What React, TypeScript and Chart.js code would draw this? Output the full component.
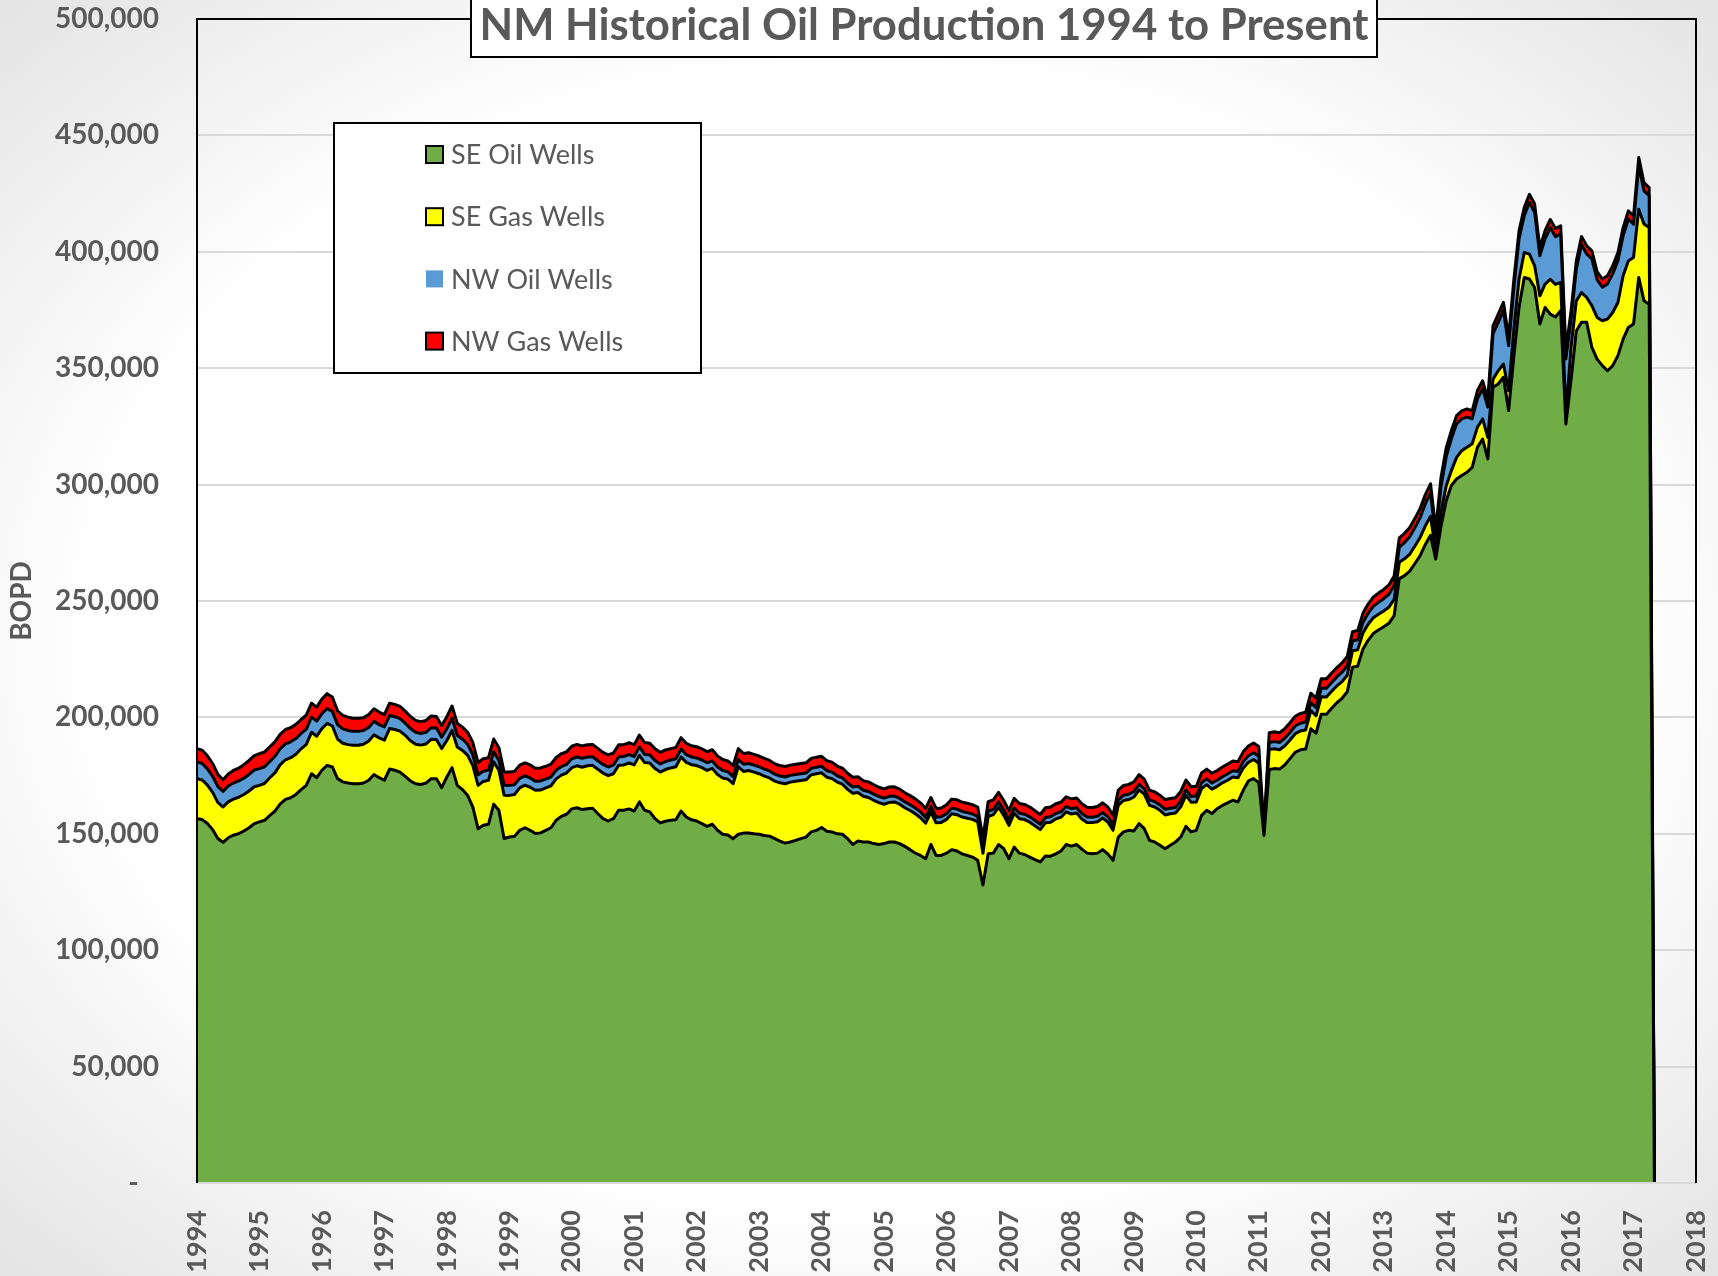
import React, { useEffect, useRef } from "react";
import { Chart, registerables } from "chart.js";

Chart.register(...registerables);

// ---------------- DATA (monthly, Jan 1994 .. May 2017, BOPD) ----------------
const START_YEAR = 1994;
const END_YEAR = 2018;
const TITLE = "NM Historical Oil Production 1994 to Present";
const Y_TITLE = "BOPD";
const SERIES_NAMES = ["SE Oil Wells", "SE Gas Wells", "NW Oil Wells", "NW Gas Wells"];
const SERIES_COLORS = ["#70AD47", "#FFFF00", "#5B9BD5", "#FF0000"];
const LEGEND_SWATCH_BORDER = [true, true, false, true];

const SE_OIL = [
  156500, 156100, 154400, 151800, 148000, 146300, 148300, 149400, 150100, 151200, 152600, 154400,
  155100, 155800, 157900, 159800, 162900, 164800, 165500, 166900, 169000, 170800, 175800, 174100,
  177300, 179400, 178700, 173700, 172300, 171800, 171500, 171500, 171800, 173000, 175500, 174100,
  173000, 177800, 177300, 176500, 174700, 172700, 171500, 171200, 171800, 173700, 173700, 169800,
  174400, 178400, 170800, 169000, 166500, 161500, 152200, 153700, 154100, 162700, 160100, 148000,
  148600, 148900, 151500, 152600, 151500, 150100, 150400, 151500, 152600, 155800, 157500, 158400,
  160700, 161200, 160400, 160800, 161000, 158700, 156500, 155500, 156500, 160100, 160100, 160700,
  159800, 163700, 160100, 159400, 156500, 154700, 155400, 155800, 156000, 159800, 157200, 156000,
  155500, 154400, 153200, 154100, 151500, 149800, 149500, 147900, 149800, 150300, 150300, 150000,
  149800, 149300, 149000, 147900, 146900, 146000, 146500, 147200, 147900, 148600, 150800, 151500,
  152700, 151100, 150800, 150000, 149800, 147900, 145400, 146900, 146500, 146500, 145800, 145400,
  145800, 146500, 146500, 145800, 144600, 143200, 141700, 140700, 139300, 145400, 140700, 140700,
  141700, 143200, 142600, 141400, 140700, 140000, 138600, 128000, 141400, 141700, 145400, 143600,
  139300, 144300, 141700, 141100, 140000, 138900, 137900, 140500, 140400, 141400, 142600, 145400,
  144700, 145400, 143400, 141700, 141400, 141700, 143200, 141400, 138600, 148600, 150800, 151500,
  151200, 154400, 152200, 147200, 146500, 145100, 143600, 145100, 146500, 148600, 153200, 150800,
  151500, 157900, 160100, 158700, 160800, 162200, 163300, 164400, 163700, 168700, 172700, 173700,
  172000, 149300, 177600, 178000, 177800, 179600, 182300, 185000, 186100, 186400, 195100, 193200,
  201400, 201400, 203900, 206300, 208200, 211000, 221600, 222000, 229300, 233100, 236000, 237500,
  238900, 240400, 243700, 259600, 260900, 262800, 266100, 269500, 274300, 278200, 268000, 282000,
  293000, 299600, 302400, 303900, 305300, 307400, 316000, 319600, 311000, 341800, 343200, 346100,
  331800, 355000, 376100, 389000, 388300, 384700, 369000, 376100, 373200, 372000, 374700, 326000,
  345000, 366000, 369700, 369700, 358900, 353900, 351100, 348900, 351100, 355400, 362500, 367500,
  369000, 389000, 379000, 377500, 0,
];

const SE_GAS = [
  17200, 17000, 16500, 16000, 15500, 15200, 15400, 15500, 15600, 15700, 15800, 15800,
  15700, 15900, 16200, 16500, 16800, 17000, 17200, 17300, 17500, 17600, 17800, 17800,
  17900, 18000, 17600, 17000, 16600, 16500, 16500, 16500, 16700, 16900, 17000, 17100,
  17200, 17400, 17500, 17600, 17600, 17300, 17000, 16900, 16800, 16900, 16800, 16800,
  15700, 16000, 16500, 16800, 17200, 17800, 18600, 18800, 18900, 18200, 17200, 18600,
  17900, 18000, 18200, 18300, 18500, 18600, 18400, 18200, 18000, 17800, 17700, 17700,
  17700, 18000, 18200, 18400, 18400, 19000, 19600, 19500, 19300, 19300, 19500, 19700,
  19800, 20000, 20500, 21000, 21500, 21800, 22200, 22500, 22800, 23200, 23500, 23700,
  23800, 24000, 24000, 24000, 24000, 24200, 24000, 23600, 29000, 26500, 26900, 26500,
  26000, 25500, 25000, 24700, 25000, 25500, 25700, 25400, 25000, 24600, 24500, 24300,
  23500, 23200, 22900, 22200, 21500, 21200, 22000, 20800, 19600, 19100, 18600, 18000,
  16900, 17000, 17200, 16900, 16600, 16800, 16900, 16200, 15300, 13900, 14000, 14200,
  14500, 15400, 15600, 15800, 16000, 16200, 16500, 13600, 16000, 16500, 16000, 14300,
  14300, 14500, 14800, 15000, 15000, 14500, 13900, 14200, 14600, 15000, 14500, 14000,
  13800, 13500, 13000, 13200, 13400, 13500, 13600, 13600, 12900, 13600, 13500, 13200,
  14600, 14500, 14800, 15000, 15000, 15000, 14500, 13500, 12400, 13000, 13300, 12800,
  12200, 11500, 11000, 10500, 9600, 9700, 9700, 10000, 10400, 9500, 8000, 8200,
  8300, 1500, 8600, 8500, 8300, 8200, 8000, 8000, 8100, 8200, 7800, 7500,
  7500, 7400, 7300, 7200, 7200, 7100, 7000, 7000, 6900, 6900, 6800, 6800,
  6800, 6900, 7000, 7000, 7200, 7300, 7500, 7800, 8000, 8200, 3000, 6000,
  6400, 6400, 9300, 10700, 10700, 10100, 8600, 8600, 9300, 3500, 5700, 5700,
  8500, 11500, 12200, 10700, 10700, 9300, 12100, 10000, 15000, 14000, 12100, 4300,
  14000, 12900, 12800, 10700, 17900, 17900, 19300, 22200, 22800, 22800, 27200, 28600,
  28600, 29300, 32900, 32900, 0,
];

const NW_OIL = [
  7200, 7100, 7000, 6900, 6800, 6700, 6800, 6900, 7000, 7000, 7100, 7200,
  7200, 7100, 7000, 7000, 6900, 6800, 6800, 6700, 6600, 6600, 6500, 6500,
  6400, 6400, 6300, 6200, 6200, 6100, 6000, 6000, 5900, 5800, 5800, 5700,
  5700, 5600, 5500, 5400, 5200, 5200, 5100, 5000, 5000, 5000, 4900, 4900,
  5000, 5200, 5000, 4800, 4700, 4600, 4500, 4400, 4300, 4300, 4200, 4300,
  4300, 4200, 4100, 4000, 4000, 3900, 3900, 3800, 3800, 3700, 3700, 3700,
  3800, 3800, 3800, 3800, 3700, 3700, 3700, 3700, 3700, 3600, 3600, 3600,
  3600, 3600, 3500, 3500, 3500, 3500, 3400, 3400, 3400, 3400, 3300, 3300,
  3300, 3300, 3300, 3200, 3200, 3200, 3100, 3100, 3100, 3100, 3000, 3000,
  3000, 3000, 3000, 3000, 2900, 2900, 2900, 2900, 2900, 2900, 2800, 2800,
  2800, 2800, 2800, 2700, 2700, 2700, 2700, 2700, 2600, 2600, 2600, 2600,
  2600, 2600, 2500, 2500, 2500, 2500, 2500, 2500, 2400, 2400, 2400, 2400,
  2400, 2400, 2400, 2400, 2400, 2300, 2300, 2300, 2300, 2300, 2300, 2300,
  2300, 2300, 2300, 2300, 2300, 2300, 2300, 2300, 2300, 2300, 2300, 2300,
  2300, 2300, 2300, 2300, 2300, 2300, 2300, 2300, 2300, 2300, 2300, 2300,
  2300, 2300, 2300, 2300, 2300, 2300, 2400, 2400, 2400, 2400, 2400, 2400,
  2500, 2500, 2500, 2600, 2600, 2600, 2700, 2700, 2700, 2800, 2800, 2900,
  3000, 500, 3000, 3100, 3100, 3200, 3200, 3300, 3300, 3400, 3400, 3500,
  3600, 3700, 3800, 3900, 4000, 4100, 4200, 4300, 4500, 4700, 4900, 5100,
  5300, 5600, 6000, 6500, 7000, 7500, 8000, 8500, 9500, 10000, 6000, 11000,
  12500, 13700, 14400, 13600, 13000, 10800, 12200, 12900, 13000, 19400, 20800, 23000,
  19400, 17900, 17200, 15800, 22200, 23000, 17200, 19500, 22200, 20500, 20900, 23700,
  12200, 13600, 20600, 18700, 20100, 16200, 14400, 15100, 16600, 18000, 17200, 18000,
  14300, 18700, 14300, 13700, 0,
];

const NW_GAS = [
  5700, 5700, 5600, 5500, 5300, 5000, 5200, 5400, 5500, 5800, 6000, 6200,
  6400, 6400, 6300, 6300, 6200, 6200, 6100, 6100, 6000, 6000, 6000, 6000,
  6300, 6400, 6200, 5900, 5800, 5700, 5600, 5600, 5500, 5500, 5400, 5400,
  5300, 5300, 5300, 5200, 5200, 5200, 5100, 5100, 5100, 5000, 5000, 5000,
  5200, 5300, 5200, 5200, 5200, 5300, 5300, 5400, 5400, 5500, 5500, 5600,
  5700, 5700, 5700, 5600, 5600, 5600, 5600, 5500, 5500, 5500, 5500, 5400,
  5400, 5400, 5300, 5300, 5300, 5300, 5200, 5200, 5200, 5200, 5100, 5100,
  5100, 5100, 5100, 5000, 5000, 5000, 5000, 4900, 4900, 4900, 4900, 4800,
  4800, 4800, 4800, 4800, 4700, 4700, 4700, 4700, 4700, 4600, 4600, 4600,
  4600, 4600, 4500, 4500, 4500, 4500, 4400, 4400, 4400, 4400, 4300, 4300,
  4300, 4300, 4300, 4200, 4200, 4200, 4200, 4100, 4100, 4100, 4100, 4000,
  4000, 4000, 4000, 4000, 3900, 3900, 3900, 3900, 3900, 3900, 3800, 3800,
  3900, 3900, 4000, 4000, 4000, 4000, 4100, 4100, 4100, 4100, 4100, 4100,
  4100, 4100, 4200, 4200, 4200, 4200, 4200, 4200, 4200, 4200, 4200, 4200,
  4200, 4200, 4200, 4200, 4200, 4200, 4200, 4200, 4200, 4200, 4200, 4200,
  4200, 4200, 4200, 4200, 4200, 4200, 4200, 4200, 4200, 4200, 4200, 4200,
  4200, 4200, 4200, 4200, 4200, 4200, 4200, 4200, 4200, 4200, 4200, 4200,
  4200, 500, 4200, 4200, 4200, 4200, 4200, 4200, 4200, 4200, 4100, 4100,
  4100, 4100, 4100, 4000, 4000, 4000, 4000, 4000, 4000, 4000, 4000, 4000,
  4000, 4000, 4000, 4000, 4000, 4000, 3900, 3900, 3900, 3900, 3900, 3900,
  3800, 3500, 3500, 3500, 3500, 3500, 3500, 3500, 3500, 3500, 3500, 3500,
  3500, 3500, 3500, 3500, 3500, 3500, 3500, 3500, 3500, 3500, 3500, 3500,
  3500, 3500, 3500, 3500, 3500, 3500, 3500, 3500, 3500, 3500, 3500, 3500,
  3500, 3500, 3500, 3500, 0,
];

const SERIES_VALUES = [SE_OIL, SE_GAS, NW_OIL, NW_GAS];

// ---------------- STYLE ----------------
const FONT = "Lato, 'Open Sans', 'DejaVu Sans', sans-serif";
const TEXT_COLOR = "#595959";

const framePlugin = {
  id: "plotFrame",
  afterDatasetsDraw(chart: any) {
    const { ctx, chartArea } = chart;
    const { left, top, right, bottom } = chartArea;
    ctx.save();
    ctx.strokeStyle = "#d9d9d9";
    ctx.lineWidth = 2;
    ctx.beginPath();
    ctx.moveTo(left, bottom);
    ctx.lineTo(right, bottom);
    ctx.stroke();
    ctx.strokeStyle = "#000000";
    ctx.lineWidth = 2;
    ctx.beginPath();
    ctx.moveTo(left, bottom);
    ctx.lineTo(left, top);
    ctx.lineTo(right, top);
    ctx.lineTo(right, bottom);
    ctx.stroke();
    ctx.restore();
  },
};

const legendPlugin = {
  id: "boxLegend",
  afterDraw(chart: any) {
    const { ctx } = chart;
    const box = { x: 334, y: 123, w: 367, h: 250 };
    ctx.save();
    ctx.fillStyle = "#ffffff";
    ctx.fillRect(box.x, box.y, box.w, box.h);
    ctx.strokeStyle = "#000000";
    ctx.lineWidth = 2;
    ctx.strokeRect(box.x, box.y, box.w, box.h);
    ctx.font = `27px ${FONT}`;
    ctx.textBaseline = "middle";
    ctx.textAlign = "left";
    chart.data.datasets.forEach((ds: any, k: number) => {
      const cy = 154.5 + k * 62.2;
      const sx = 426;
      const s = 17;
      ctx.fillStyle = ds.backgroundColor;
      ctx.fillRect(sx, cy - s / 2, s, s);
      if (LEGEND_SWATCH_BORDER[k]) {
        ctx.strokeStyle = "#000000";
        ctx.lineWidth = 2;
        ctx.strokeRect(sx, cy - s / 2, s, s);
      }
      ctx.fillStyle = TEXT_COLOR;
      ctx.fillText(ds.label, 451, cy + 1);
    });
    ctx.restore();
  },
};

const titlePlugin = {
  id: "boxTitle",
  afterDraw(chart: any) {
    const { ctx } = chart;
    const box = { x: 471, y: -2, w: 906, h: 59 };
    ctx.save();
    ctx.fillStyle = "#ffffff";
    ctx.fillRect(box.x, box.y, box.w, box.h);
    ctx.strokeStyle = "#000000";
    ctx.lineWidth = 2;
    ctx.strokeRect(box.x, box.y, box.w, box.h);
    ctx.font = `bold 40px ${FONT}`;
    const w = ctx.measureText(TITLE).width;
    const size = (40 * 889) / w;
    ctx.font = `bold ${size.toFixed(2)}px ${FONT}`;
    ctx.fillStyle = TEXT_COLOR;
    ctx.textAlign = "center";
    ctx.textBaseline = "alphabetic";
    ctx.fillText(TITLE, box.x + box.w / 2, 40);
    ctx.restore();
  },
};

export default function App() {
  const canvasRef = useRef<HTMLCanvasElement | null>(null);

  useEffect(() => {
    const canvas = canvasRef.current;
    if (!canvas) return;
    const datasets = SERIES_VALUES.map((vals, k) => ({
      label: SERIES_NAMES[k],
      data: vals.map((v, i) => ({ x: START_YEAR + i / 12, y: v })),
      backgroundColor: SERIES_COLORS[k],
      borderColor: "#000000",
      borderWidth: 3,
      borderJoinStyle: "round" as const,
      fill: k === 0 ? "origin" : "-1",
      pointRadius: 0,
      pointHoverRadius: 0,
      tension: 0,
    }));

    const chart = new Chart(canvas, {
      type: "line",
      data: { datasets: datasets as any },
      options: {
        animation: false,
        responsive: false,
        maintainAspectRatio: false,
        devicePixelRatio: 1,
        events: [],
        layout: { padding: { top: 19, right: 22, left: 0, bottom: 0 } },
        plugins: {
          legend: { display: false },
          tooltip: { enabled: false },
          title: { display: false },
        },
        scales: {
          x: {
            type: "linear",
            min: START_YEAR,
            max: END_YEAR,
            grid: { display: false },
            border: { display: false },
            ticks: {
              stepSize: 1,
              autoSkip: false,
              maxRotation: 90,
              minRotation: 90,
              padding: 19,
              color: TEXT_COLOR,
              font: { family: FONT, size: 27, weight: "bold" },
              callback: (v: any) => String(v),
            },
            afterFit: (s: any) => {
              s.height = 93;
              s.paddingLeft = 0;
              s.paddingRight = 0;
              s.paddingTop = 0;
              s.paddingBottom = 0;
            },
          },
          y: {
            stacked: true,
            min: 0,
            max: 500000,
            grid: { color: "#d9d9d9", lineWidth: 2, drawTicks: false },
            border: { display: false },
            ticks: {
              stepSize: 50000,
              padding: 38,
              color: TEXT_COLOR,
              font: { family: FONT, size: 28, weight: "bold" },
              callback: (v: any) => (Number(v) === 0 ? "-   " : Number(v).toLocaleString("en-US")),
            },
            title: {
              display: true,
              text: Y_TITLE,
              color: TEXT_COLOR,
              font: { family: FONT, size: 28, weight: "bold" },
              padding: { top: 5, bottom: 0 },
            },
            afterFit: (s: any) => {
              s.width = 197;
              s.paddingLeft = 0;
              s.paddingRight = 0;
              s.paddingTop = 0;
              s.paddingBottom = 0;
            },
          },
        },
      } as any,
      plugins: [framePlugin, legendPlugin, titlePlugin],
    });
    return () => chart.destroy();
  }, []);

  return (
    <div
      style={{
        position: "absolute",
        left: 0,
        top: 0,
        width: 1718,
        height: 1276,
        background:
          "radial-gradient(ellipse 72% 72% at 50% 50%, #ffffff 62%, #f1f1f1 80%, #e2e2e2 100%)",
      }}
    >
      <canvas ref={canvasRef} width={1718} height={1276} style={{ display: "block", width: 1718, height: 1276 }} />
    </div>
  );
}
